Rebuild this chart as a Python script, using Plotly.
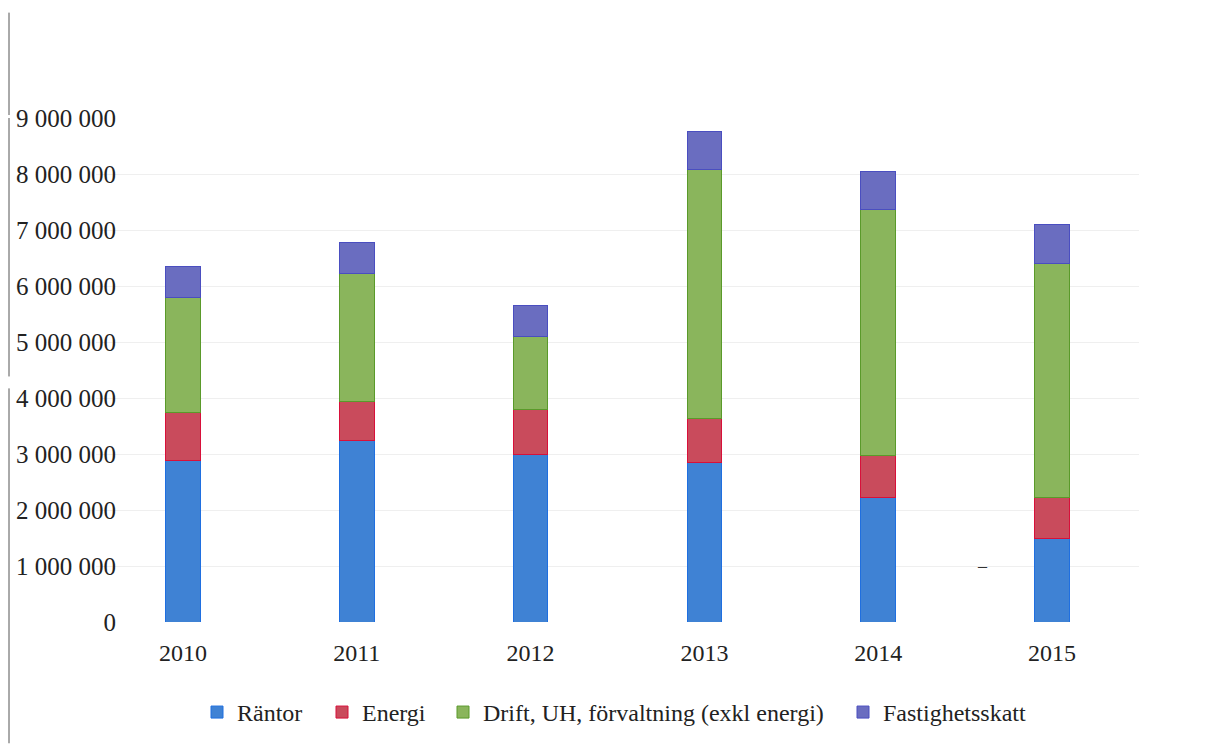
import plotly.graph_objects as go

years = ["2010", "2011", "2012", "2013", "2014", "2015"]
rantor = [2880000, 3250000, 3000000, 2840000, 2225000, 1490000]
energi = [860000, 680000, 800000, 790000, 750000, 740000]
drift = [2050000, 2300000, 1300000, 4450000, 4390000, 4180000]
skatt = [550000, 540000, 550000, 680000, 680000, 680000]

series = [
    ("Räntor", rantor, "#3f82d4", "#1f6fe0"),
    ("Energi", energi, "#c94b5c", "#d8103a"),
    ("Drift, UH, förvaltning (exkl energi)", drift, "#8ab55c", "#5a9a2a"),
    ("Fastighetsskatt", skatt, "#6a6dc0", "#4a4ec0"),
]

tickvals = [i * 1000000 for i in range(10)]
ticktext = ["0"] + [f"{i} 000 000" for i in range(1, 10)]

L, R, T, B = 96, 73, 118, 122
PW = 1212 - L - R
PH = 747 - T - B
font = "Liberation Serif"

legend_names = ["legend", "legend2", "legend3", "legend4"]
marker_left = [211, 336, 457, 857]

fig = go.Figure()
for (name, vals, col, edge), lg in zip(series, legend_names):
    fig.add_trace(go.Bar(
        x=years, y=vals, name=name, width=0.2, legend=lg,
        marker=dict(color=col, line=dict(color=edge, width=1)),
    ))

layout_legends = {}
for lg, mx in zip(legend_names, marker_left):
    layout_legends[lg] = dict(
        x=(mx - 14 - L) / PW, xanchor="left",
        y=(T + PH - 716) / PH, yanchor="middle",
        font=dict(size=24, family=font, color="#222222"),
        bgcolor="rgba(0,0,0,0)", itemwidth=30,
    )

fig.update_layout(
    barmode="stack",
    width=1212, height=747,
    margin=dict(l=L, r=R, t=T, b=B),
    paper_bgcolor="white", plot_bgcolor="white",
    font=dict(family=font, size=24, color="#222222"),
    xaxis=dict(showline=False, ticks="", tickfont=dict(size=24, family=font, color="#222222"),
               ticklabelstandoff=14, automargin=False),
    yaxis=dict(range=[0, 9000000], tickvals=tickvals, ticktext=ticktext,
               showgrid=True, gridcolor="#efefef", gridwidth=1, zeroline=False,
               showline=False, ticks="", automargin=False,
               ticklabelstandoff=-21,
               tickfont=dict(size=25, family=font, color="#222222")),
    showlegend=True,
    **layout_legends,
)

# scan artifacts: left border line fragments and a small dash
for top, bot in [(12, 115), (118, 378), (390, 747)]:
    fig.add_shape(type="line", xref="paper", yref="paper",
                  x0=(9 - L) / PW, x1=(9 - L) / PW,
                  y0=(T + PH - bot) / PH, y1=(T + PH - top) / PH,
                  line=dict(color="#555555", width=1))
fig.add_annotation(x=(990 - L) / PW, y=1000000, xref="paper", yref="y",
                   text="–", showarrow=False, font=dict(size=18, color="#333333"))

fig.write_html("out.html")
